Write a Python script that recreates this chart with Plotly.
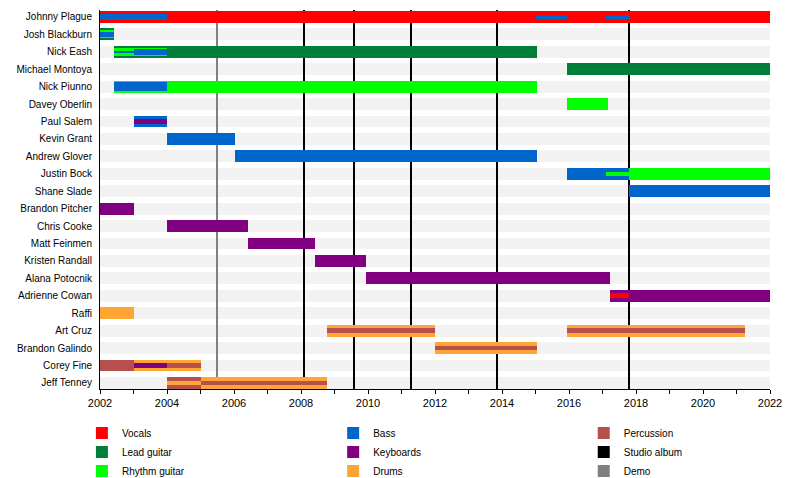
import plotly.graph_objects as go

# band members, top to bottom
members = [
    "Johnny Plague", "Josh Blackburn", "Nick Eash", "Michael Montoya",
    "Nick Piunno", "Davey Oberlin", "Paul Salem", "Kevin Grant",
    "Andrew Glover", "Justin Bock", "Shane Slade", "Brandon Pitcher",
    "Chris Cooke", "Matt Feinmen", "Kristen Randall", "Alana Potocnik",
    "Adrienne Cowan", "Raffi", "Art Cruz", "Brandon Galindo",
    "Corey Fine", "Jeff Tenney",
]

# main bars: (member, start, end)
vocals = [("Johnny Plague", 2002.0, 2022.0)]
lead_guitar = [("Josh Blackburn", 2002.0, 2002.42), ("Nick Eash", 2002.42, 2015.03),
               ("Michael Montoya", 2015.93, 2022.0)]
rhythm_guitar = [("Nick Piunno", 2002.42, 2015.03), ("Davey Oberlin", 2015.93, 2017.15),
                 ("Justin Bock", 2017.8, 2022.0)]
bass = [("Paul Salem", 2003.0, 2004.0), ("Kevin Grant", 2004.0, 2006.03),
        ("Andrew Glover", 2006.03, 2015.03), ("Justin Bock", 2015.93, 2017.8),
        ("Shane Slade", 2017.8, 2022.0)]
keyboards = [("Brandon Pitcher", 2002.0, 2003.0), ("Chris Cooke", 2004.0, 2006.42),
             ("Matt Feinmen", 2006.42, 2008.42), ("Kristen Randall", 2008.42, 2009.95),
             ("Alana Potocnik", 2009.95, 2017.22), ("Adrienne Cowan", 2017.22, 2022.0)]
drums = [("Raffi", 2002.0, 2003.0), ("Art Cruz", 2008.77, 2012.0),
         ("Art Cruz", 2015.93, 2021.25), ("Brandon Galindo", 2012.0, 2015.03),
         ("Corey Fine", 2003.0, 2005.0), ("Jeff Tenney", 2005.0, 2008.77)]
percussion = [("Corey Fine", 2002.0, 2003.0), ("Jeff Tenney", 2004.0, 2005.0)]

# secondary roles drawn as thinner stripes: (role, member, start, end, thickness)
stripes = [
    ("Bass", "Johnny Plague", 2002.0, 2004.0, 0.32),
    ("Bass", "Johnny Plague", 2015.0, 2015.95, 0.2),
    ("Bass", "Johnny Plague", 2017.1, 2017.82, 0.2),
    ("Rhythm guitar", "Josh Blackburn", 2002.0, 2002.42, 0.45),
    ("Bass", "Josh Blackburn", 2002.0, 2002.42, 0.25),
    ("Rhythm guitar", "Nick Eash", 2002.42, 2004.0, 0.45),
    ("Bass", "Nick Eash", 2002.42, 2003.0, 0.15),
    ("Bass", "Nick Eash", 2003.0, 2004.0, 0.32),
    ("Bass", "Nick Piunno", 2002.42, 2004.0, 0.5),
    ("Keyboards", "Paul Salem", 2003.0, 2004.0, 0.25),
    ("Rhythm guitar", "Justin Bock", 2017.1, 2017.8, 0.2),
    ("Vocals", "Adrienne Cowan", 2017.22, 2017.8, 0.3),
    ("Percussion", "Art Cruz", 2008.77, 2012.0, 0.25),
    ("Percussion", "Art Cruz", 2015.93, 2021.25, 0.25),
    ("Percussion", "Brandon Galindo", 2012.0, 2015.03, 0.25),
    ("Keyboards", "Corey Fine", 2003.0, 2004.0, 0.32),
    ("Percussion", "Corey Fine", 2004.0, 2005.0, 0.3),
    ("Drums", "Jeff Tenney", 2004.0, 2005.0, 0.25),
    ("Percussion", "Jeff Tenney", 2005.0, 2008.77, 0.25),
]

studio_albums = [2008.09, 2009.58, 2011.28, 2013.85, 2017.79]
demos = [2005.49]

colors = {
    "Vocals": "#ff0000",
    "Lead guitar": "#007f3a",
    "Rhythm guitar": "#00ff00",
    "Bass": "#0066cc",
    "Keyboards": "#800080",
    "Drums": "#ffa533",
    "Percussion": "#b84f4f",
    "Studio album": "#000000",
    "Demo": "#808080",
}

# legend columns, each read top to bottom
legend_cols = [
    ["Vocals", "Lead guitar", "Rhythm guitar"],
    ["Bass", "Keyboards", "Drums"],
    ["Percussion", "Studio album", "Demo"],
]
legend_of = {}
legend_rank = {}
for c, col in enumerate(legend_cols):
    for r, name in enumerate(col):
        legend_of[name] = "legend" if c == 0 else "legend%d" % (c + 1)
        legend_rank[name] = r + 1

row = {m: i for i, m in enumerate(members)}
START, END = 2002, 2022
BAR_W = 0.68
LINE_W = 0.08

fig = go.Figure()

# grey background stripes
fig.add_trace(go.Bar(
    y=list(range(len(members))), x=[END - START] * len(members), base=[START] * len(members),
    orientation="h", width=BAR_W, marker=dict(color="#f2f2f2", line_width=0),
    showlegend=False, hoverinfo="skip",
))

# release lines (thin bars spanning all rows)
for name, dates in [("Demo", demos), ("Studio album", studio_albums)]:
    fig.add_trace(go.Bar(
        y=[(len(members) - 1) / 2] * len(dates), x=[LINE_W] * len(dates),
        base=[d - LINE_W / 2 for d in dates], orientation="h", width=len(members) + 2,
        marker=dict(color=colors[name], line_width=0), name=name,
        legend=legend_of[name], legendrank=legend_rank[name], hoverinfo="skip",
    ))

# main role bars
for name, segs in [("Vocals", vocals), ("Lead guitar", lead_guitar),
                   ("Rhythm guitar", rhythm_guitar), ("Bass", bass),
                   ("Keyboards", keyboards), ("Drums", drums), ("Percussion", percussion)]:
    fig.add_trace(go.Bar(
        y=[row[s[0]] for s in segs], x=[s[2] - s[1] for s in segs], base=[s[1] for s in segs],
        orientation="h", width=BAR_W, marker=dict(color=colors[name], line_width=0),
        name=name, legend=legend_of[name], legendrank=legend_rank[name],
        hovertext=[s[0] for s in segs], hoverinfo="text+name",
    ))

# secondary stripes on top
for role, m, s, e, w in stripes:
    fig.add_trace(go.Bar(
        y=[row[m]], x=[e - s], base=[s], orientation="h", width=w,
        marker=dict(color=colors[role], line_width=0), showlegend=False,
        hovertext=[m], name=role, hoverinfo="text+name",
    ))

legend_style = dict(xref="paper", yref="container", xanchor="left", y=0.141,
                    yanchor="top", font=dict(size=10), traceorder="normal",
                    itemclick=False, bgcolor="rgba(0,0,0,0)")

# page has an 8px body margin, so margins are shifted by that
fig.update_layout(
    width=800, height=478,
    margin=dict(l=92, r=38, t=2, b=97),
    barmode="overlay",
    plot_bgcolor="white", paper_bgcolor="white",
    font=dict(family="Liberation Sans, Arial, sans-serif", size=10, color="black"),
    bargap=0,
    legend=dict(x=-0.027, **legend_style),
    legend2=dict(x=0.348, **legend_style),
    legend3=dict(x=0.722, **legend_style),
)

fig.update_xaxes(
    range=[START, END], tick0=START, dtick=2, ticks="outside", ticklen=4,
    tickcolor="black", showline=True, linecolor="black", linewidth=1,
    showgrid=False, zeroline=False, tickfont=dict(size=11),
    minor=dict(dtick=1, ticks="outside", ticklen=4, tickcolor="black", showgrid=False),
)
fig.update_yaxes(
    range=[len(members) - 0.65, -0.4], tickvals=list(range(len(members))), ticktext=members,
    showline=True, linecolor="black", linewidth=1, showgrid=False, zeroline=False,
    ticks="", ticklabelstandoff=5,
)

fig.write_html("out.html")
